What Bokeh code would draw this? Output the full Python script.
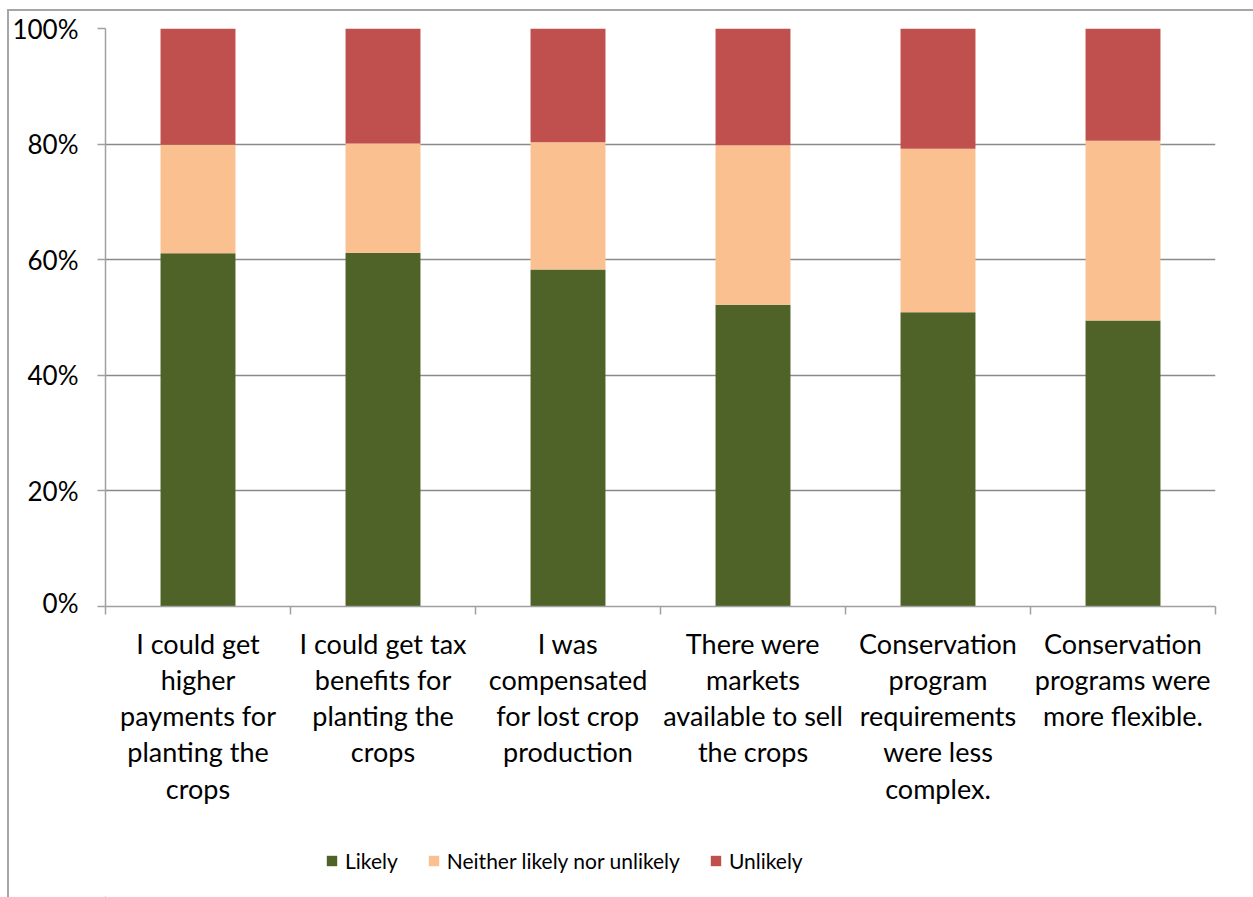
from bokeh.plotting import figure
from bokeh.layouts import column
from bokeh.models import FixedTicker, Legend, LegendItem, NumeralTickFormatter, Range1d
from bokeh.core.properties import value
from bokeh.embed import file_html
from bokeh.resources import INLINE

categories = [
    "I could get\nhigher\npayments for\nplanting the\ncrops",
    "I could get tax\nbenefits for\nplanting the\ncrops",
    "I was\ncompensated\nfor lost crop\nproduction",
    "There were\nmarkets\navailable to sell\nthe crops",
    "Conservation\nprogram\nrequirements\nwere less\ncomplex.",
    "Conservation\nprograms were\nmore flexible.",
]
likely = [61.1, 61.2, 58.3, 52.2, 50.9, 49.5]
neither = [18.8, 18.9, 22.0, 27.6, 28.3, 31.1]
unlikely = [20.1, 19.9, 19.7, 20.2, 20.8, 19.4]
series_names = ["Likely", "Neither likely nor unlikely", "Unlikely"]
colors = ["#4F6228", "#FAC090", "#C0504D"]
y_ticks = [0, 0.2, 0.4, 0.6, 0.8, 1.0]

FONT = "Lato"
N = len(categories)
xs = [i + 0.5 for i in range(N)]
data = {
    "x": xs,
    "Likely": [v / 100 for v in likely],
    "Neither likely nor unlikely": [v / 100 for v in neither],
    "Unlikely": [v / 100 for v in unlikely],
}

# ---- main chart ----
p = figure(
    frame_width=1110, frame_height=578,
    x_range=Range1d(0, N), y_range=Range1d(0, 1),
    output_backend="svg", toolbar_location=None,
    min_border_left=96, min_border_right=38, min_border_top=17, min_border_bottom=12,
)
p.outline_line_color = None
p.background_fill_color = "white"
p.border_fill_color = "white"

renderers = p.vbar_stack(series_names, x="x", width=0.405, source=data,
                         color=colors, line_color=None)

p.xgrid.visible = False
p.ygrid.ticker = FixedTicker(ticks=y_ticks)
p.ygrid.grid_line_color = "#8a8a8a"
p.ygrid.grid_line_width = 1.6

ya = p.yaxis[0]
ya.ticker = FixedTicker(ticks=y_ticks)
ya.formatter = NumeralTickFormatter(format="0%")
ya.axis_line_color = "#a0a0a0"
ya.axis_line_width = 1.5
ya.major_tick_line_color = "#a0a0a0"
ya.major_tick_line_width = 1.5
ya.major_tick_in = 0
ya.major_tick_out = 8
ya.minor_tick_line_color = None
ya.major_label_text_font = FONT
ya.major_label_text_font_size = "26px"
ya.major_label_text_color = "#000000"
ya.major_label_standoff = 19

xa = p.xaxis[0]
xa.ticker = FixedTicker(ticks=[], minor_ticks=list(range(N + 1)))
xa.axis_line_color = "#a0a0a0"
xa.axis_line_width = 1.5
xa.major_tick_line_color = None
xa.major_tick_in = 0
xa.major_tick_out = 0
xa.minor_tick_line_color = "#a0a0a0"
xa.minor_tick_line_width = 1.5
xa.minor_tick_in = 0
xa.minor_tick_out = 8
xa.major_label_text_font_size = "0px"
xa.major_label_standoff = 0

# ---- category labels + legend strip ----
H2 = 279
q = figure(
    frame_width=1110, frame_height=H2,
    x_range=Range1d(0, N), y_range=Range1d(0, H2),
    output_backend="svg", toolbar_location=None,
    min_border_left=96, min_border_right=38, min_border_top=0, min_border_bottom=0,
    x_axis_type=None, y_axis_type=None,
)
q.grid.visible = False
q.outline_line_color = None
q.background_fill_color = "white"
q.border_fill_color = "white"

q.text(x=xs, y=[H2 - 8] * N, text=categories,
       text_align="center", text_baseline="top",
       text_font=value(FONT), text_font_size="27px",
       text_line_height=1.10, text_color="#000000")

# legend proxies: real glyphs placed outside the visible x range
leg_rs = [q.vbar(x=[-5], top=[1], width=0.4, fill_color=c, line_color=None) for c in colors]
legend = Legend(
    items=[LegendItem(label=n, renderers=[r]) for n, r in zip(series_names, leg_rs)],
    orientation="horizontal",
    location=(220, 24),
    padding=0, spacing=29, label_standoff=7, margin=0,
    glyph_width=13, glyph_height=13,
    label_text_font=FONT, label_text_font_size="21px", label_text_color="#000000",
    border_line_color=None, background_fill_alpha=0,
)
q.add_layout(legend, "center")

layout = column(p, q, spacing=0,
                styles={"margin-top": "9px", "margin-left": "7px",
                        "border-top": "2px solid #a6a6a6",
                        "border-left": "2px solid #a6a6a6"})

open("out.html", "w").write(file_html(layout, INLINE))
